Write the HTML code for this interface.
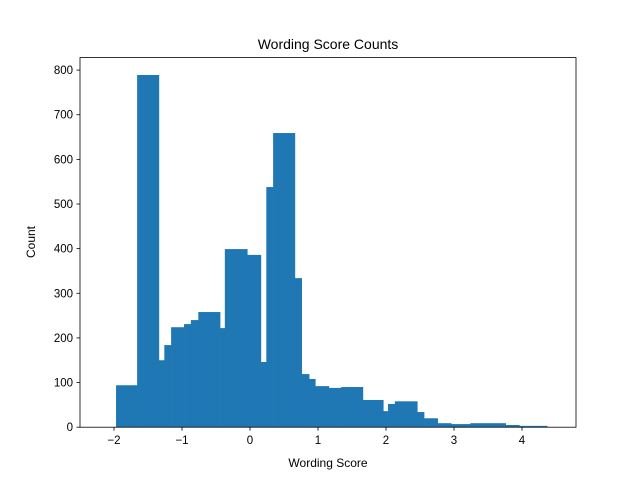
<!DOCTYPE html>
<html><head><meta charset="utf-8"><style>
body{margin:0;background:#fff;}
svg{display:block;font-family:"Liberation Sans","DejaVu Sans",sans-serif;}
</style></head><body>
<svg id="chart" width="640" height="480" viewBox="0 0 640 480" xmlns="http://www.w3.org/2000/svg">
<rect width="640" height="480" fill="#fff"/>
<text x="328" y="49" text-anchor="middle" font-size="14">Wording Score Counts</text>
<g id="bars"></g>
<rect x="80" y="57.6" width="496" height="369.6" fill="none" stroke="#000" stroke-width="0.8"/>
<g id="xticks"></g>
<g id="yticks"></g>
<text x="328" y="467" text-anchor="middle" font-size="12">Wording Score</text>
<text transform="translate(35,242) rotate(-90)" text-anchor="middle" font-size="12">Count</text>
</svg>
<script>
const binEdges=[-1.97,-1.66,-1.34,-1.26,-1.16,-0.97,-0.87,-0.76,-0.44,-0.37,-0.04,0.16,0.24,0.34,0.66,0.76,0.87,0.96,1.16,1.34,1.66,1.96,2.03,2.13,2.46,2.56,2.76,2.96,3.24,3.76,3.96,4.37];
const counts=[94,789,150,184,224,231,240,258,222,399,386,146,538,659,334,119,108,92,88,90,61,36,52,58,34,20,9,7,9,5,3];
const xTicks=[-2,-1,0,1,2,3,4];
const yTicks=[0,100,200,300,400,500,600,700,800];
const NS="http://www.w3.org/2000/svg";
const X0=80,X1=576,Y0=427.2,Y1=57.6,xmin=-2.5,xmax=4.794,ymin=0,ymax=828;
const xs=v=>X0+(v-xmin)/(xmax-xmin)*(X1-X0);
const ys=v=>Y0-(v-ymin)/(ymax-ymin)*(Y0-Y1);
const bars=document.getElementById('bars');
counts.forEach((c,i)=>{
  const r=document.createElementNS(NS,'rect');
  
  
  const a=xs(binEdges[i]),b=xs(binEdges[i+1]);
  r.setAttribute('x',a);r.setAttribute('width',b-a+0.3);
  r.setAttribute('y',ys(c));r.setAttribute('height',Y0-ys(c));
  r.setAttribute('fill','#1f77b4');
  bars.appendChild(r);
});
const xg=document.getElementById('xticks');
xTicks.forEach(t=>{
  const l=document.createElementNS(NS,'line');
  
  
  l.setAttribute('x1',xs(t));l.setAttribute('x2',xs(t));l.setAttribute('y1',Y0);l.setAttribute('y2',Y0+3.5);
  l.setAttribute('stroke','#000');l.setAttribute('stroke-width','0.8');
  xg.appendChild(l);
  const tx=document.createElementNS(NS,'text');
  
  
  tx.setAttribute('x',xs(t));tx.setAttribute('y',Y0+17);
  tx.setAttribute('text-anchor','middle');tx.setAttribute('font-size','11.5');
  tx.textContent=t<0?'\u2212'+Math.abs(t):String(t);
  xg.appendChild(tx);
});
const yg=document.getElementById('yticks');
yTicks.forEach(t=>{
  const l=document.createElementNS(NS,'line');
  
  
  l.setAttribute('x1',X0-3.5);l.setAttribute('x2',X0);l.setAttribute('y1',ys(t));l.setAttribute('y2',ys(t));
  l.setAttribute('stroke','#000');l.setAttribute('stroke-width','0.8');
  yg.appendChild(l);
  const tx=document.createElementNS(NS,'text');
  
  
  tx.setAttribute('x',X0-7);tx.setAttribute('y',ys(t)+4);
  tx.setAttribute('text-anchor','end');tx.setAttribute('font-size','11.5');
  tx.textContent=String(t);
  yg.appendChild(tx);
});
</script>
</body></html>
